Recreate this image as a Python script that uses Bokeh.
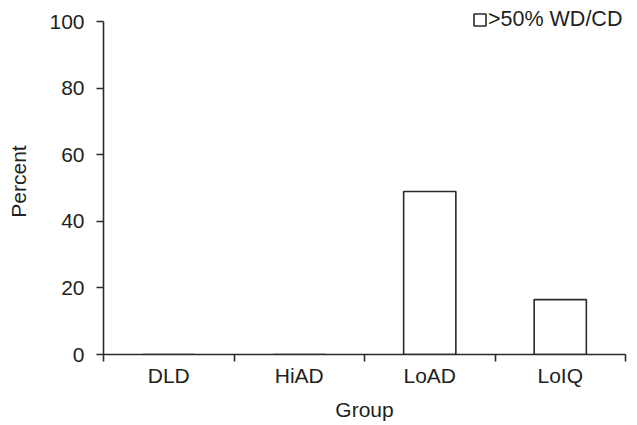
import numpy as np
from bokeh.plotting import figure
from bokeh.models import ColumnDataSource, FixedTicker, Range1d, Legend, LegendItem
from bokeh.embed import file_html
from bokeh.resources import INLINE

categories = ["DLD", "HiAD", "LoAD", "LoIQ"]
percent_wd_cd = [0, 0, 49, 16.5]
y_ticks = [0, 20, 40, 60, 80, 100]
series_name = ">50% WD/CD"

FONT = "Liberation Sans"
TXT = "#231F20"
LINE = "#2b2b2b"
FS = "21px"

x_pos = np.arange(len(categories)) + 0.5
src = ColumnDataSource(dict(x=x_pos, top=percent_wd_cd, cat=categories))

# a little head-room above 100 holds the legend; the axis line stops at 100
p = figure(frame_width=522, frame_height=346, output_backend="svg", toolbar_location=None,
           x_range=Range1d(0, len(categories)), y_range=Range1d(0, 104),
           min_border_left=103, min_border_right=4, min_border_top=8, min_border_bottom=10)
p.outline_line_color = None
p.xgrid.visible = False
p.ygrid.visible = False
p.background_fill_color = "white"
p.border_fill_color = "white"

r = p.vbar(x="x", top="top", bottom=0, width=0.4, source=src,
           fill_color="white", line_color=LINE, line_width=1.6)

# x axis: labels at category centres, tick marks at category boundaries
xa = p.xaxis[0]
xa.ticker = FixedTicker(ticks=list(x_pos), minor_ticks=list(range(len(categories) + 1)))
xa.major_label_overrides = {float(x): c for x, c in zip(x_pos, categories)}
xa.major_tick_line_color = None
xa.major_tick_in = 0
xa.major_tick_out = 7
xa.minor_tick_in = 0
xa.minor_tick_out = 7
xa.minor_tick_line_color = LINE
xa.minor_tick_line_width = 1.6
xa.axis_line_color = LINE
xa.axis_line_width = 1.6
xa.major_label_text_font = FONT
xa.major_label_text_font_size = FS
xa.major_label_text_color = TXT
xa.major_label_standoff = 2
xa.axis_label = "Group"
xa.axis_label_text_font = FONT
xa.axis_label_text_font_size = FS
xa.axis_label_text_font_style = "normal"
xa.axis_label_text_color = TXT
xa.axis_label_standoff = 8

ya = p.yaxis[0]
ya.bounds = (y_ticks[0], y_ticks[-1])
ya.ticker = FixedTicker(ticks=y_ticks, minor_ticks=[])
ya.major_tick_in = 0
ya.major_tick_out = 7
ya.major_tick_line_color = LINE
ya.major_tick_line_width = 1.6
ya.minor_tick_line_color = None
ya.axis_line_color = LINE
ya.axis_line_width = 1.6
ya.major_label_text_font = FONT
ya.major_label_text_font_size = FS
ya.major_label_text_color = TXT
ya.major_label_standoff = 12
ya.axis_label = "Percent"
ya.axis_label_text_font = FONT
ya.axis_label_text_font_size = FS
ya.axis_label_text_font_style = "normal"
ya.axis_label_text_color = TXT
ya.axis_label_standoff = 16

legend = Legend(items=[LegendItem(label=series_name, renderers=[r])],
                location=(369, 322), padding=0, margin=0, spacing=0,
                glyph_width=15, glyph_height=15, label_standoff=1,
                label_text_font=FONT, label_text_font_size="21.5px", label_text_color=TXT,
                border_line_color=None, background_fill_alpha=0)
p.add_layout(legend)

open("out.html", "w").write(file_html(p, INLINE))
